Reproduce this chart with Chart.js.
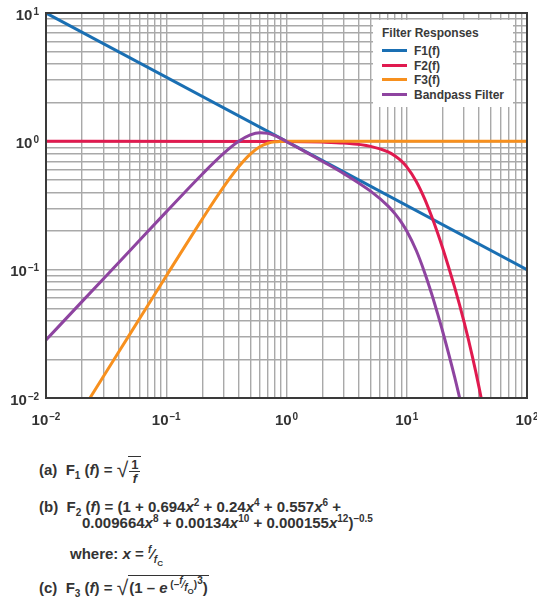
<!DOCTYPE html>
<html>
<head>
<meta charset="utf-8">
<script src="https://cdn.jsdelivr.net/npm/chart.js@4.4.1/dist/chart.umd.min.js"></script>
<style>
  body { margin: 0; background: #fff; font-family: "Liberation Sans", Arial, sans-serif; color: #333; }
  #wrap { position: relative; width: 537px; height: 598px; overflow: hidden; }
  #box { position: absolute; left: 0; top: 0; width: 537px; height: 432px; }
  #legend { position: absolute; left: 373px; top: 20px; width: 140px; height: 87px; background: #fff;
            font-weight: bold; font-size: 12px; color: #3a3a3a; }
  #legend .ttl { position: absolute; left: 9px; top: 6px; font-size: 12px; }
  #legend .it { position: absolute; left: 9px; height: 14px; line-height: 14px; white-space: nowrap; }
  #legend .sw { display: inline-block; width: 25px; height: 3px; vertical-align: middle; margin-right: 7px; position: relative; top: -1px; }
  .eq { position: absolute; font-weight: bold; font-size: 15px; color: #333; white-space: nowrap; line-height: 18px; }
  .eq sub, .eq sup { font-size: 10px; line-height: 0; }
  .eq sup sup, .eq sup sub, .eq sub sub { font-size: 8px; }
  .eq i { font-style: italic; }
  .sq { font-size: 21px; font-weight: normal; position: relative; top: 2px; line-height: 0; }
  .rad { border-top: 1.5px solid #333; padding: 1px 1px 0 1px; display: inline-block; line-height: 16px; }
  .rad.alto { padding-top: 4px; }
  .frac { display: inline-flex; flex-direction: column; align-items: center; vertical-align: middle; font-size: 13px; line-height: 13px; }
  .frac span:first-child { border-bottom: 1.5px solid #333; padding: 0 2px; }
  .ex { font-size: 10px; line-height: 0; position: relative; top: -5px; }
</style>
</head>
<body>
<div id="wrap">
  <div id="box"><canvas id="grafico"></canvas></div>
  <div id="legend"></div>

  <div class="eq" style="left:39px;top:456px;">(a)&nbsp; F<sub>1</sub> (<i>f</i>) = <span class="sq">√</span><span class="rad"><span class="frac"><span>1</span><span><i>f</i></span></span></span></div>
  <div class="eq" style="left:39px;top:498px;">(b)&nbsp; F<sub>2</sub> (<i>f</i>) = (1 + 0.694<i>x</i><sup>2</sup> + 0.24<i>x</i><sup>4</sup> + 0.557<i>x</i><sup>6</sup> +</div>
  <div class="eq" style="left:82px;top:514px;">0.009664<i>x</i><sup>8</sup> + 0.00134<i>x</i><sup>10</sup> + 0.000155<i>x</i><sup>12</sup>)<sup>–0.5</sup></div>
  <div class="eq" style="left:70px;top:545px;">where: <i>x</i> = <sup><i>f</i></sup>⁄<sub><i>f</i><sub>C</sub></sub></div>
  <div class="eq" style="left:39px;top:575px;">(c)&nbsp; F<sub>3</sub> (<i>f</i>) = <span class="sq">√</span><span class="rad alto">(1 – <i>e</i><span class="ex">&nbsp;(–<sup><i>f</i></sup>⁄<sub><i>f</i><sub>O</sub></sub>)<sup>3</sup></span>)</span></div>
</div>

<script>
// frecuencias y respuestas
const freqF1 = [0.01, 100];
const valF1 = [10, 0.1];

const freqF2 = [0.01, 1, 2, 3, 5, 7, 8, 9, 10, 12, 14, 16, 18, 20, 25, 30, 35, 40, 45];
const valF2 = [1, 0.9965, 0.986, 0.969, 0.914, 0.827, 0.769, 0.704, 0.632, 0.487, 0.361, 0.264, 0.195, 0.145, 0.073, 0.039, 0.0214, 0.012, 0.0068];

const freqF3 = [0.02, 0.03, 0.05, 0.1, 0.2, 0.3, 0.4, 0.5, 0.6, 0.7, 0.8, 0.9, 1, 1.5, 100];
const valF3 = [0.008, 0.0147, 0.0316, 0.0893, 0.249, 0.441, 0.633, 0.795, 0.907, 0.967, 0.992, 0.9985, 1, 1, 1];

const freqBP = [0.01, 0.02, 0.05, 0.1, 0.2, 0.3, 0.4, 0.5, 0.6, 0.7, 0.8, 0.9, 1, 1.2, 1.5, 2, 3, 5, 7, 8, 9, 10, 12, 14, 16, 18, 20, 25, 30];
const valBP = [0.0283, 0.0566, 0.141, 0.282, 0.557, 0.805, 1.0, 1.124, 1.169, 1.154, 1.106, 1.05, 0.996, 0.908, 0.81, 0.697, 0.56, 0.409, 0.313, 0.272, 0.235, 0.2, 0.141, 0.0965, 0.0661, 0.0458, 0.0324, 0.0146, 0.0071];

const seriesNames = ['F1(f)', 'F2(f)', 'F3(f)', 'Bandpass Filter'];
const seriesColors = ['#1a6fb3', '#e01a4f', '#f7901e', '#8e44a0'];

// etiquetas de los ejes: base 10 y exponente
const decadas = [0.01, 0.1, 1, 10, 100];
const exponentesX = ['–2', '–1', '0', '1', '2'];
const decadasY = [0.01, 0.1, 1, 10];
const exponentesY = ['–2', '–1', '0', '1'];

function puntos(xs, ys) {
  return xs.map((x, i) => ({ x: x, y: ys[i] }));
}

// lineas de rejilla 1..9 por decada
function rejilla(dec) {
  const vals = [];
  for (let d = 0; d < dec.length - 1; d++) {
    for (let m = 1; m < 10; m++) vals.push(dec[d] * m);
  }
  vals.push(dec[dec.length - 1]);
  return vals;
}

const fuenteBase = 'bold 15px "Liberation Sans", Arial, sans-serif';
const fuenteExp = 'bold 10px "Liberation Sans", Arial, sans-serif';

// escribe 10 con el exponente arriba
function potencia(ctx, exp, x, y, align) {
  ctx.font = fuenteBase;
  const wb = ctx.measureText('10').width;
  ctx.font = fuenteExp;
  const we = ctx.measureText(exp).width;
  const total = wb + 1 + we;
  const x0 = align === 'center' ? x - total / 2 : x - total;
  ctx.textAlign = 'left';
  ctx.font = fuenteBase;
  ctx.fillText('10', x0, y);
  ctx.font = fuenteExp;
  ctx.fillText(exp, x0 + wb + 1, y - 5);
}

const etiquetas = {
  id: 'etiquetas',
  afterDraw(chart) {
    const ctx = chart.ctx;
    const sx = chart.scales.x;
    const sy = chart.scales.y;
    ctx.save();
    ctx.fillStyle = '#333';
    ctx.textBaseline = 'alphabetic';
    decadas.forEach((v, i) => potencia(ctx, exponentesX[i], sx.getPixelForValue(v), sx.top + 27, 'center'));
    decadasY.forEach((v, i) => potencia(ctx, exponentesY[i], sy.right - 7, sy.getPixelForValue(v) + 6.5, 'right'));
    ctx.restore();
  }
};

const marco = {
  id: 'marco',
  afterDraw(chart) {
    const a = chart.chartArea;
    const ctx = chart.ctx;
    ctx.save();
    ctx.strokeStyle = '#3a3a3a';
    ctx.lineWidth = 2;
    ctx.strokeRect(a.left, a.top, a.right - a.left, a.bottom - a.top);
    ctx.restore();
  }
};

const datos = [puntos(freqF1, valF1), puntos(freqF2, valF2), puntos(freqF3, valF3), puntos(freqBP, valBP)];
const orden = [3, 2, 1, 0];

const ctx = document.getElementById('grafico').getContext('2d');
const grafico = new Chart(ctx, {
  type: 'line',
  data: {
    datasets: datos.map((d, i) => ({
      label: seriesNames[i],
      data: d,
      borderColor: seriesColors[i],
      backgroundColor: seriesColors[i],
      borderWidth: 3,
      pointRadius: 0,
      cubicInterpolationMode: 'monotone',
      order: orden[i],
      fill: false
    }))
  },
  options: {
    responsive: true,
    maintainAspectRatio: false,
    animation: false,
    layout: { padding: { top: 13, right: 10, left: 0, bottom: 0 } },
    plugins: { legend: { display: false }, tooltip: { enabled: false } },
    scales: {
      x: {
        type: 'logarithmic',
        min: 0.01,
        max: 100,
        afterBuildTicks: s => { s.ticks = rejilla(decadas).map(v => ({ value: v })); },
        afterFit: s => { s.height = 34; s.paddingLeft = 0; s.paddingRight = 0; },
        grid: { color: '#a9a9a9', lineWidth: 1.4, drawTicks: false },
        border: { display: false },
        ticks: { display: false }
      },
      y: {
        type: 'logarithmic',
        min: 0.01,
        max: 10,
        afterBuildTicks: s => { s.ticks = rejilla(decadasY).map(v => ({ value: v })); },
        afterFit: s => { s.width = 46; s.paddingTop = 0; s.paddingBottom = 0; },
        grid: { color: '#a9a9a9', lineWidth: 1.4, drawTicks: false },
        border: { display: false },
        ticks: { display: false }
      }
    }
  },
  plugins: [marco, etiquetas]
});

// leyenda dentro del area de la grafica
const leyenda = document.getElementById('legend');
leyenda.innerHTML = '<div class="ttl">Filter Responses</div>';
grafico.data.datasets.forEach((ds, i) => {
  const it = document.createElement('div');
  it.className = 'it';
  it.style.top = (24 + i * 14.5) + 'px';
  it.innerHTML = '<span class="sw" style="background:' + ds.borderColor + '"></span>' + ds.label;
  leyenda.appendChild(it);
});
</script>
</body>
</html>
